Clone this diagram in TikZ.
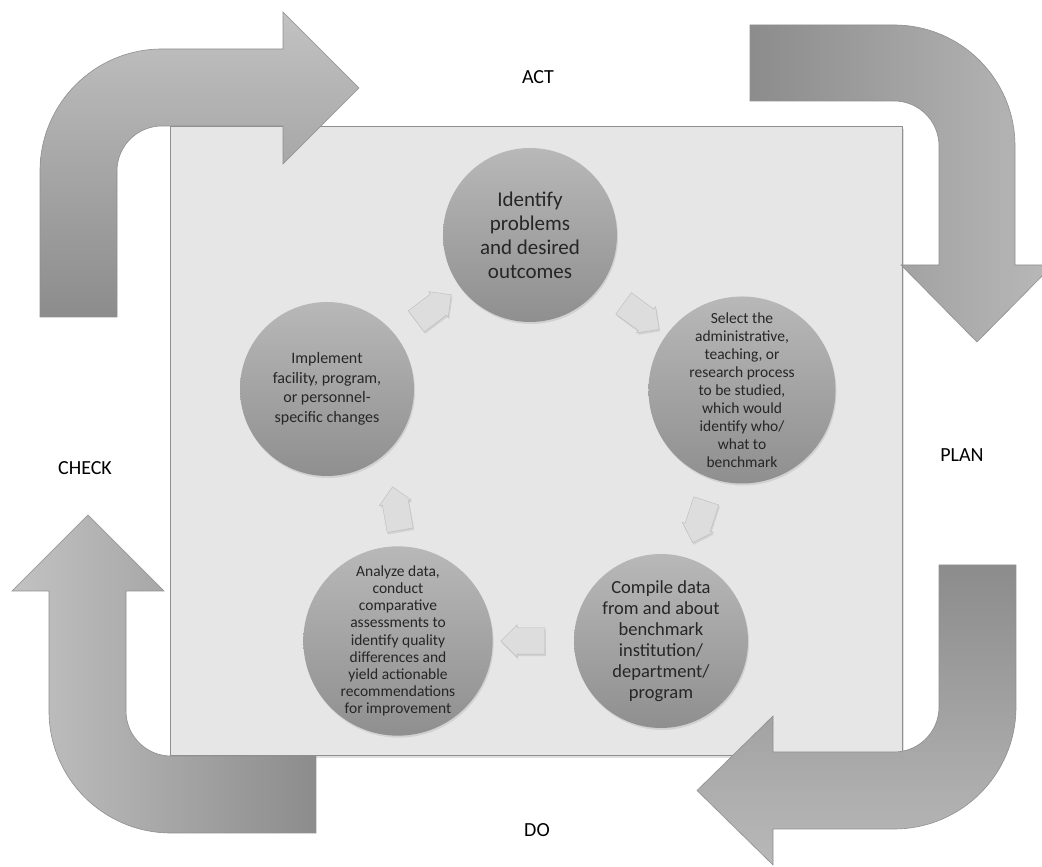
\documentclass[tikz,border=0pt]{standalone}
\usepackage{fontspec}
\setmainfont{Carlito}
\usepackage{tikz}
\usetikzlibrary{calc}
\usetikzlibrary{shapes.arrows}
\usetikzlibrary{shadows}

\definecolor{boxfill}{HTML}{E6E6E6}
\definecolor{boxline}{HTML}{8F8F8F}
\definecolor{bigdark}{HTML}{8C8C8C}
\definecolor{biglight}{HTML}{C2C2C2}
\definecolor{balltop}{HTML}{B8B8B8}
\definecolor{ballbottom}{HTML}{8F8F8F}
\definecolor{stepfill}{HTML}{DDDDDD}
\definecolor{textgray}{HTML}{262626}

\tikzset{
  phase/.style={font=\fontsize{20}{24}\selectfont, text=black},
  bigarrow/.style={draw=boxline, line width=0.6pt},
  ball/.style={circle, minimum size=174pt, inner sep=0pt, align=center,
    top color=balltop, bottom color=ballbottom, text=textgray,
    drop shadow={opacity=0.2, shadow xshift=1pt, shadow yshift=-2pt}},
  flow/.style={single arrow, minimum height=44pt, inner sep=13pt,
    single arrow head extend=3pt, fill=stepfill,
    draw=stepfill!85!black, line width=0.4pt,
    drop shadow={opacity=0.2, shadow xshift=1pt, shadow yshift=-2pt}}
}

\begin{document}
\begin{tikzpicture}[x=1pt, y=1pt]

  \useasboundingbox (0,0) rectangle (1042,867);

  % background square
  \draw[boxline, fill=boxfill,
    drop shadow={opacity=0.25, shadow xshift=2pt, shadow yshift=-3pt}]
    (170,112) rectangle (902,741);

  % ACT
  \draw[bigarrow, top color=biglight, bottom color=bigdark]
    (40,550) -- (40,696) arc (180:90:122) -- (283,818) -- (283,855)
    -- (359,779) -- (283,703) -- (283,741) -- (162,741) arc (90:180:45)
    -- (117,550) -- cycle;
  % PLAN
  \draw[bigarrow, left color=bigdark, right color=biglight!95!black]
    (750,842) -- (894,842) arc (90:0:121) -- (1015,602) -- (1053,602)
    -- (977,525) -- (901,602) -- (939,602) -- (939,721) arc (0:90:45)
    -- (750,766) -- cycle;
  % DO
  \draw[bigarrow, top color=bigdark, bottom color=biglight!95!black]
    (1016,302) -- (1016,160) arc (0:-90:122) -- (773,38) -- (773,2)
    -- (697,76.5) -- (773,151) -- (773,115) -- (894,115) arc (-90:0:45)
    -- (939,302) -- cycle;
  % CHECK
  \draw[bigarrow, left color=biglight, right color=bigdark]
    (316,34) -- (171,34) arc (-90:-180:122) -- (49,276) -- (12,276)
    -- (88,352) -- (164,276) -- (126,276) -- (126,156) arc (180:270:45)
    -- (316,111) -- cycle;

  \node[phase] (act)   at (538,790) {ACT};
  \node[phase] (plan)  at (962,412) {PLAN};
  \node[phase] (do)    at (537,37)  {DO};
  \node[phase] (check) at (85,399)  {CHECK};

  % steps
  \node[ball, font=\fontsize{21}{24}\selectfont]
    (identify) at (530,632) {Identify\\problems\\and desired\\outcomes};
  \node[ball, font=\fontsize{15.5}{18}\selectfont]
    (select) at (742,477) {Select the\\administrative,\\teaching, or\\research process\\to be studied,\\which would\\identify who/\\what to\\benchmark};
  \node[ball, font=\fontsize{18.5}{21}\selectfont]
    (compile) at (661,226) {Compile data\\from and about\\benchmark\\institution/\\department/\\program};
  \node[ball, font=\fontsize{15.5}{17.2}\selectfont]
    (analyze) at (398,226) {Analyze data,\\conduct\\comparative\\assessments to\\identify quality\\differences and\\yield actionable\\recommendations\\for improvement};
  \node[ball, font=\fontsize{16}{19.5}\selectfont]
    (implement) at (327,478) {Implement\\facility, program,\\or personnel-\\specific changes};

  \node[flow, rotate=37]  (a1) at ($(implement)!0.5!(identify)$) {};
  \node[flow, rotate=-36] (a2) at ($(identify)!0.5!(select)$) {};
  \node[flow, rotate=-108] (a3) at ($(select)!0.5!(compile)$) {};
  \node[flow, rotate=180] (a4) at ($(compile)!0.5!(analyze)$) {};
  \node[flow, rotate=100] (a5) at ($(analyze)!0.5!(implement)+(35,0)$) {};

\end{tikzpicture}
\end{document}
